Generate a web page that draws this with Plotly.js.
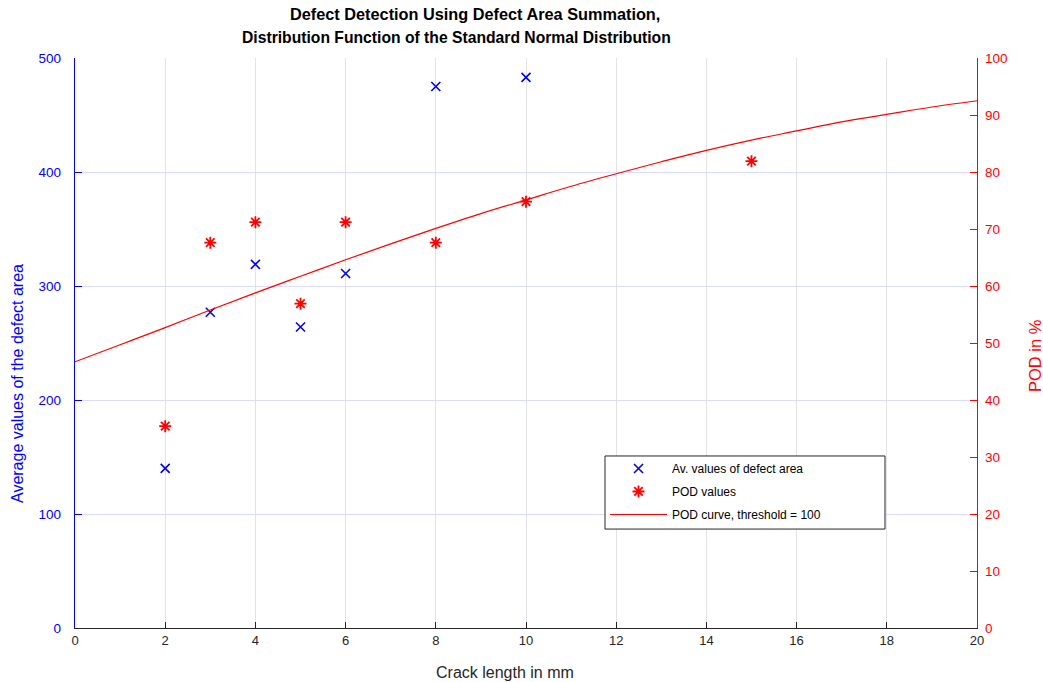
<!DOCTYPE html>
<html><head><meta charset="utf-8">
<script src="https://cdn.plot.ly/plotly-3.0.1.min.js"></script>
<style>html,body{margin:0;padding:0;background:#fff}#chart{width:1043px;height:682px}</style>
</head><body><div id="chart"></div>
<script>
// Data
const crackLengths = [2, 3, 4, 5, 6, 8, 10];
const avgDefectArea = [140, 277, 319, 264, 311, 475, 483];
const podCrackLengths = [2, 3, 4, 5, 6, 8, 10, 15];
const podValues = [35.4, 67.6, 71.2, 56.9, 71.2, 67.6, 74.8, 81.9];
const curveX = [0,1,2,3,4,5,6,7,8,9,10,11,12,13,14,15,16,17,18,19,20];
const curvePOD = [46.7,49.7,52.7,55.8,58.8,61.7,64.6,67.4,70.1,72.7,75.1,77.5,79.7,81.8,83.8,85.6,87.2,88.8,90.1,91.4,92.5];
const xTicks = [0,2,4,6,8,10,12,14,16,18,20];
const titleLines = ['Defect Detection Using Defect Area Summation,', 'Distribution Function of the Standard Normal Distribution'];
const xTitle = 'Crack length in mm';
const yTitle = 'Average values of the defect area';
const y2Title = 'POD in %';

const FONT = 'Liberation Sans, Arial, sans-serif';
const traces = [
  {x: crackLengths, y: avgDefectArea, type: 'scatter', mode: 'markers', name: 'Av. values of defect area',
   legendgroup: 'a', marker: {symbol: 'x-thin-open', size: 9, color: '#0000ff', line: {color: '#0000ff', width: 1.6}}, yaxis: 'y'},
  {x: podCrackLengths, y: podValues, type: 'scatter', mode: 'markers', name: 'POD values',
   legendgroup: 'b', marker: {symbol: 'asterisk-open', size: 10, color: '#ff0000', line: {color: '#ff0000', width: 1.8}}, yaxis: 'y2'},
  {x: curveX, y: curvePOD, type: 'scatter', mode: 'lines', name: 'POD curve, threshold = 100',
   legendgroup: 'c', line: {color: '#ff0000', width: 1.2, shape: 'spline'}, yaxis: 'y2'}
];

// pixel -> paper helpers for label placement
const L = 75, R = 977, T = 58, B = 628;
const px = v => (v - L) / (R - L);
const py = v => (B - v) / (B - T);

const layout = {
  width: 1043, height: 682,
  margin: {l: L, r: 1043 - R, t: T, b: 682 - B},
  paper_bgcolor: '#ffffff', plot_bgcolor: '#ffffff',
  font: {family: FONT, size: 13, color: '#262626'},
  annotations: [
    {text: '<b>' + titleLines[0] + '</b>', xref: 'paper', yref: 'paper', x: px(475), y: py(14),
     xanchor: 'center', yanchor: 'middle', showarrow: false, font: {family: FONT, size: 16.3, color: '#000000'}},
    {text: '<b>' + titleLines[1] + '</b>', xref: 'paper', yref: 'paper', x: px(456), y: py(38),
     xanchor: 'center', yanchor: 'middle', showarrow: false, font: {family: FONT, size: 15.7, color: '#000000'}},
    {text: xTitle, xref: 'paper', yref: 'paper', x: px(505), y: py(672), xanchor: 'center', yanchor: 'middle',
     showarrow: false, font: {family: FONT, size: 16, color: '#262626'}},
    {text: yTitle, xref: 'paper', yref: 'paper', x: px(17), y: py(384), xanchor: 'center', yanchor: 'middle',
     textangle: -90, showarrow: false, font: {family: FONT, size: 16, color: '#0000ff'}},
    {text: y2Title, xref: 'paper', yref: 'paper', x: px(1035), y: py(356), xanchor: 'center', yanchor: 'middle',
     textangle: -90, showarrow: false, font: {family: FONT, size: 16.5, color: '#ff0000'}}
  ],
  xaxis: {range: [0, 20], tickvals: xTicks, ticks: 'inside', ticklen: 6, tickcolor: '#262626',
          showline: true, linecolor: '#262626', linewidth: 1, mirror: false, showgrid: true, gridcolor: '#e2e2e8',
          zeroline: false, tickfont: {size: 13, color: '#262626'}},
  yaxis: {range: [0, 500], dtick: 100, ticks: 'inside', ticklen: 7, tickcolor: '#0000ff',
          showline: true, linecolor: '#0000ff', linewidth: 1.2, showgrid: true, gridcolor: '#dcdcff', zeroline: false,
          tickfont: {size: 13.5, color: '#0000ff'}, ticklabelstandoff: 10},
  yaxis2: {range: [0, 100], dtick: 10, overlaying: 'y', side: 'right', ticks: 'inside', ticklen: 7, tickcolor: '#ff0000',
           showline: true, linecolor: '#ff0000', linewidth: 1.2, showgrid: false, zeroline: false,
           tickfont: {size: 13.5, color: '#ff0000'}, ticklabelstandoff: 4},
  showlegend: true,
  legend: {x: 0.5876, y: 0.3053, xanchor: 'left', yanchor: 'top', bgcolor: 'rgba(0,0,0,0)', borderwidth: 0,
           font: {family: FONT, size: 12, color: '#000000'}, tracegroupgap: 4, itemwidth: 57, traceorder: 'grouped'},
  shapes: [{type: 'rect', xref: 'paper', yref: 'paper', x0: 0.5876, x1: 0.898, y0: 0.1736, y1: 0.3018,
            fillcolor: '#ffffff', line: {color: '#262626', width: 1}, layer: 'above'}]
};
Plotly.newPlot('chart', traces, layout, {displayModeBar: false, staticPlot: true});
</script></body></html>
